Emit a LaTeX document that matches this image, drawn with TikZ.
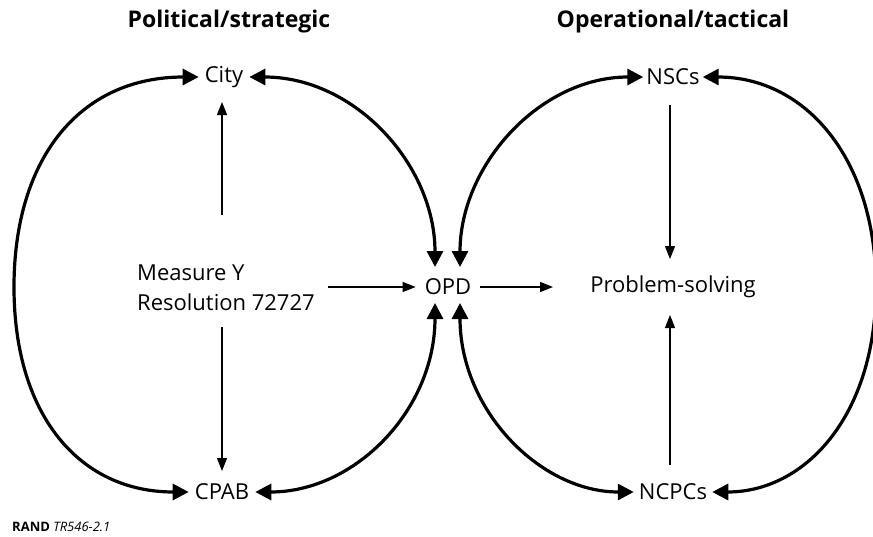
\documentclass[tikz,border=0pt]{standalone}
\usepackage{fontspec}
\setmainfont{Open Sans}
\usetikzlibrary{arrows.meta}
\begin{document}
\begin{tikzpicture}[x=1pt,y=-1pt,
  lbl/.style={inner ysep=1pt,inner xsep=6pt,font=\fontsize{22}{25}\selectfont},
  ttl/.style={inner sep=0pt,font=\fontsize{23}{27}\selectfont\bfseries},
  thick arrow/.style={line width=3.2pt,{Triangle[length=16pt,width=16pt]}-{Triangle[length=16pt,width=16pt]}},
  thin arrow/.style={line width=1.1pt,-{Triangle[length=13pt,width=10pt]}}
]
\useasboundingbox (0,0) rectangle (873,536);
\node[ttl] (pol) at (229,22) {Political/strategic};
\node[ttl] (ops) at (673,22) {Operational/tactical};

\node[lbl] (city) at (224,77) {City};
\node[lbl] (cpab) at (222,492) {CPAB};
\node[lbl,inner xsep=3pt] (nscs) at (673,77) {NSCs};
\node[lbl,inner xsep=5pt] (ncpc) at (673,492) {NCPCs};
\node[lbl,inner xsep=9pt] (opd) at (448,287) {OPD};
\node[lbl] (ps) at (673,287) {Problem-solving};
\node[lbl,align=left,anchor=west,inner xsep=0pt,font=\fontsize{22}{30}\selectfont] (meas) at (137,288) {Measure Y\\Resolution 72727};

\coordinate (opdTL) at (435,267);
\coordinate (opdTR) at (460,267);
\coordinate (opdBL) at (435,303);
\coordinate (opdBR) at (460,303);
\coordinate (cityBot) at (222,215);
\coordinate (cpabTop) at (222,327);
\coordinate (nscsBot) at (670,105);
\coordinate (ncpcTop) at (670,465);

% thin arrows
\draw[thin arrow] (cityBot) -- (222,102);
\draw[thin arrow] (cpabTop) -- (222,471);
\draw[thin arrow] (328,287) -- (opd.west);
\draw[thin arrow] (opd.east) -- (553,287);
\draw[thin arrow] (nscsBot) -- (670,259);
\draw[thin arrow] (ncpcTop) -- (670,315);

% thick loops
\draw[thick arrow] (city.west) .. controls (80,77) and (14,158) .. (14,287) .. controls (14,416) and (80,492) .. (cpab.west);
\draw[thick arrow] (nscs.east) .. controls (805,77) and (876,158) .. (876,287) .. controls (876,416) and (805,492) .. (ncpc.east);
\draw[thick arrow] (city.east) .. controls (355,77) and (435,165) .. (opdTL);
\draw[thick arrow] (nscs.west) .. controls (540,77) and (460,165) .. (opdTR);
\draw[thick arrow] (cpab.east) .. controls (355,492) and (435,410) .. (opdBL);
\draw[thick arrow] (ncpc.west) .. controls (540,492) and (460,410) .. (opdBR);

\node[anchor=base west,inner sep=0pt,font=\fontsize{13}{15}\selectfont] (foot) at (12,531) {\textbf{RAND} \textit{TR546-2.1}};
\end{tikzpicture}
\end{document}
